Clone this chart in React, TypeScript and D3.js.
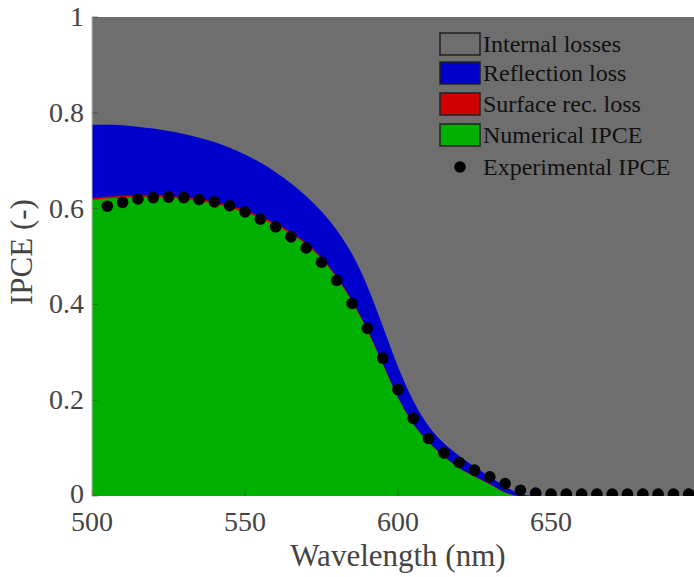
import React from "react";
import * as d3 from "d3";

const modelWavelengths = [500,505,510,515,520,525,530,535,540,545,550,555,560,565,570,575,580,585,590,595,600,605,610,615,620,625,630,635,640,645,650,660,670,680,690,700];
const modelTotal = [0.775,0.775,0.774,0.771,0.767,0.762,0.756,0.748,0.739,0.727,0.713,0.696,0.676,0.653,0.626,0.594,0.555,0.505,0.438,0.355,0.270,0.199,0.146,0.110,0.084,0.061,0.040,0.020,0.004,0,0,0,0,0,0,0];
const modelSurface = [0.622,0.625,0.627,0.628,0.628,0.627,0.624,0.620,0.614,0.606,0.596,0.584,0.569,0.551,0.528,0.498,0.458,0.408,0.348,0.277,0.206,0.151,0.113,0.083,0.059,0.041,0.025,0.008,0,0,0,0,0,0,0,0];
const modelIPCE = [0.618,0.621,0.623,0.624,0.624,0.623,0.620,0.616,0.610,0.602,0.592,0.580,0.565,0.547,0.525,0.495,0.455,0.405,0.345,0.275,0.205,0.150,0.112,0.082,0.058,0.040,0.024,0.007,0,0,0,0,0,0,0,0];

const expWavelengths = [505,510,515,520,525,530,535,540,545,550,555,560,565,570,575,580,585,590,595,600,605,610,615,620,625,630,635,640,645,650,655,660,665,670,675,680,685,690,695];
const expIPCE = [0.605,0.613,0.620,0.623,0.624,0.623,0.619,0.614,0.606,0.593,0.578,0.562,0.541,0.518,0.488,0.450,0.402,0.350,0.288,0.222,0.162,0.120,0.090,0.070,0.054,0.040,0.026,0.012,0.006,0.004,0.004,0.004,0.004,0.004,0.004,0.004,0.004,0.004,0.004];

const xTicks = [500, 550, 600, 650];
const yTicks = [0, 0.2, 0.4, 0.6, 0.8, 1];
const legendLabels = ["Internal losses", "Reflection loss", "Surface rec. loss", "Numerical IPCE", "Experimental IPCE"];

const W = 694, H = 577;
const left = 92, top = 17, bottom = 496, right = 704;
const GRAY = "#6e6e6e", BLUE = "#0000cc", RED = "#d00000", GREEN = "#00b000";
const FONT = "Liberation Serif, Times New Roman, serif";

export default function App() {
  const x = d3.scaleLinear().domain([500, 700]).range([left, right]);
  const y = d3.scaleLinear().domain([0, 1]).range([bottom, top]);
  const idx = modelWavelengths.map((_, i) => i);
  const area = (hi: number[]) =>
    d3.area<number>()
      .x(i => x(modelWavelengths[i]))
      .y0(() => y(0))
      .y1(i => y(hi[i]))
      .curve(d3.curveMonotoneX)(idx) || "";
  const legendColors = [GRAY, BLUE, RED, GREEN];
  const rows = [44, 73, 104, 135, 167];
  return (
    <svg width={W} height={H} style={{ position: "absolute", left: 0, top: 0, background: "#fff", overflow: "hidden" }} fontFamily={FONT}>
      <defs>
        <clipPath id="plot"><rect x={left} y={top} width={right - left} height={bottom - top} /></clipPath>
      </defs>
      <g clipPath="url(#plot)">
        <rect x={left} y={top} width={right - left} height={bottom - top} fill={GRAY} />
        <path d={area(modelTotal)} fill={BLUE} />
        <path d={area(modelSurface)} fill={RED} />
        <path d={area(modelIPCE)} fill={GREEN} />
      </g>
      {xTicks.map(t => (
        <g key={"x" + t}>
          <line x1={x(t)} x2={x(t)} y1={bottom} y2={bottom - 6} stroke="#333" strokeOpacity={0.5} />
          <text x={x(t)} y={531} textAnchor="middle" fontSize={28} fill="#444">{t}</text>
        </g>
      ))}
      {yTicks.map(t => (
        <g key={"y" + t}>
          <line x1={left} x2={left + 6} y1={y(t)} y2={y(t)} stroke="#333" strokeOpacity={0.5} />
          <text x={84} y={y(t) + (t === 0 ? 7 : 9)} textAnchor="end" fontSize={28} fill="#444">{t}</text>
        </g>
      ))}
      <line x1={left} x2={left} y1={top} y2={bottom} stroke="#bbb" strokeWidth={1} />
      <g clipPath="url(#plot)">
        {expWavelengths.map((w, i) => (
          <circle key={w} cx={x(w)} cy={y(expIPCE[i])} r={5.8} fill="#000" />
        ))}
      </g>
      <text x={(left + right) / 2} y={566} textAnchor="middle" fontSize={31} fill="#444">Wavelength (nm)</text>
      <text transform={`translate(32, 252) rotate(-90)`} textAnchor="middle" fontSize={31} fill="#444">IPCE (-)</text>
      <g>
        {legendLabels.map((lab, i) => (
          <g key={lab}>
            {i < 4 ? (
              <rect x={440} y={rows[i] - 11} width={40} height={22} fill={legendColors[i]} stroke="#222" strokeWidth={1.5} />
            ) : (
              <circle cx={460} cy={rows[i]} r={5.8} fill="#000" />
            )}
            <text x={483} y={rows[i] + 8} fontSize={24} fill="#111">{lab}</text>
          </g>
        ))}
      </g>
    </svg>
  );
}
